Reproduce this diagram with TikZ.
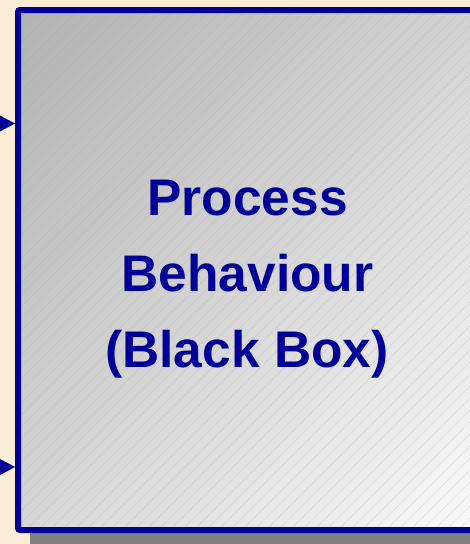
\documentclass[tikz,border=0pt]{standalone}
\usepackage{fontspec}
\usetikzlibrary{shadings}
\setmainfont{Liberation Sans}
\definecolor{bgcream}{HTML}{FCEDD6}
\definecolor{boxblue}{HTML}{000099}
\definecolor{shadowgray}{HTML}{808080}
\definecolor{gUL}{HTML}{B2B2B2}
\definecolor{gUR}{HTML}{D4D4D4}
\definecolor{gLL}{HTML}{D6D6D6}
\definecolor{gLR}{HTML}{FAFAFA}
\tikzset{
  boxborder/.style={draw=boxblue, line width=6pt, rounded corners=2pt},
  hatch/.style={gray!70, line width=0.6pt, opacity=0.35, dash pattern=on 1pt off 0.6pt},
  inarrow/.style={fill=boxblue, draw=none},
  title/.style={text=boxblue, font=\bfseries\fontsize{51.5}{76}\selectfont, anchor=base, inner sep=0pt},
}
\begin{document}
\begin{tikzpicture}[x=1pt,y=-1pt]
\useasboundingbox (0,0) rectangle (470,544);
\begin{scope}
\clip (0,0) rectangle (470,544);
% background
\fill[bgcream] (0,0) rectangle (470,544);
% shadow
\fill[shadowgray] (30,533) rectangle (490,560);
% box fill
\shade[upper left=gUL, upper right=gUR, lower left=gLL, lower right=gLR]
  (18,10) rectangle (490,530);
% hatch lines
\begin{scope}
\clip (18,10) rectangle (490,530);
\foreach \i in {-600,-588,...,500}
  \draw[hatch] (\i,544) -- (\i+544,0);
\end{scope}
% border
\draw[boxborder] (18,10) rectangle (490,530);
% input arrowheads
\coordinate (in1) at (15,123.5);
\coordinate (in2) at (15,467);
\fill[inarrow] (in1) -- ++(-16,-8.5) -- ++(0,17) -- cycle;
\fill[inarrow] (in2) -- ++(-16,-8.5) -- ++(0,17) -- cycle;
\end{scope}
% text
\node[title] (l1) at (247.5,215) {Process};
\node[title] (l2) at (247.5,291) {Behaviour};
\node[title] (l3) at (247,367) {(Black Box)};
\end{tikzpicture}
\end{document}
